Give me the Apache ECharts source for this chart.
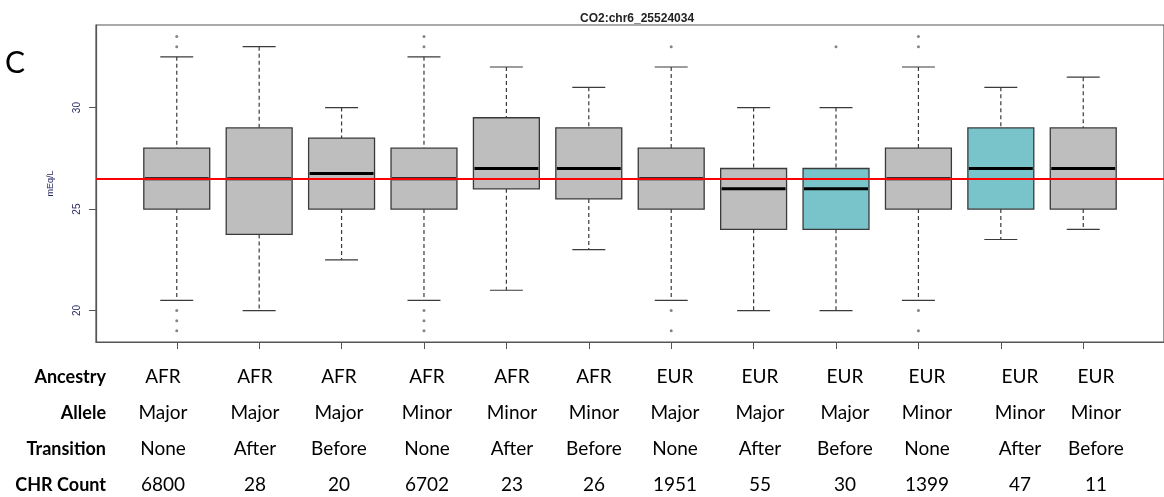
<!DOCTYPE html>
<html>
<head>
<meta charset="utf-8">
<script src="https://cdn.jsdelivr.net/npm/echarts@6/dist/echarts.min.js"></script>
<style>
  html, body { margin: 0; padding: 0; background: #fff; }
  #chart { width: 1164px; height: 497px; }
</style>
</head>
<body>
<div id="chart"></div>
<script>
// box stats, one entry per group: [low whisker, q1, median, q3, high whisker]
var lowWhisker  = [20.5, 20,    22.5,  20.5, 21,   23,   20.5, 20, 20, 20.5, 23.5, 24];
var q1          = [25,   23.75, 25,    25,   26,   25.5, 25,   24, 24, 25,   25,   25];
var median      = [26.5, 26.5,  26.75, 26.5, 27,   27,   26.5, 26, 26, 26.5, 27,   27];
var q3          = [28,   29,    28.5,  28,   29.5, 29,   28,   27, 27, 28,   29,   29];
var highWhisker = [32.5, 33,    30,    32.5, 32,   31,   32,   30, 30, 32,   31,   31.5];

// outliers: [group (1-based), value]
var outliers = [
  [1, 33.5], [1, 33], [1, 20], [1, 19.5], [1, 19],
  [4, 33.5], [4, 33], [4, 20], [4, 19.5], [4, 19],
  [7, 33], [7, 20], [7, 19],
  [9, 33],
  [10, 33.5], [10, 33], [10, 20], [10, 19]
];

var refLine = 26.5;
var yTicks = [20, 25, 30];

// table under the plot
var rowNames   = ['Ancestry', 'Allele', 'Transition', 'CHR Count'];
var ancestry   = ['AFR', 'AFR', 'AFR', 'AFR', 'AFR', 'AFR', 'EUR', 'EUR', 'EUR', 'EUR', 'EUR', 'EUR'];
var allele     = ['Major', 'Major', 'Major', 'Minor', 'Minor', 'Minor', 'Major', 'Major', 'Major', 'Minor', 'Minor', 'Minor'];
var transition = ['None', 'After', 'Before', 'None', 'After', 'Before', 'None', 'After', 'Before', 'None', 'After', 'Before'];
var chrCount   = ['6800', '28', '20', '6702', '23', '26', '1951', '55', '30', '1399', '47', '11'];

// layout / style only
var tealBoxes = [9, 11];
var colX = [163, 255, 339, 427, 512, 594, 675, 760, 845, 927, 1020, 1096];
var rowY = [377, 413, 449, 485];

var boxData = [];
for (var i = 0; i < median.length; i++) {
  boxData.push([i + 1, lowWhisker[i], q1[i], median[i], q3[i], highWhisker[i]]);
}
var positions = boxData.map(function (d) { return d[0]; });

var tableRows = [ancestry, allele, transition, chrCount];
var graphics = [{
  type: 'text', left: 5, top: 48,
  style: { text: 'C', font: '30px Lato', fill: '#000' }
}];
rowNames.forEach(function (name, r) {
  graphics.push({
    type: 'text', x: 106, y: rowY[r],
    style: { text: name, font: 'bold 18px Lato', fill: '#000', textAlign: 'right', textVerticalAlign: 'middle' }
  });
  tableRows[r].forEach(function (t, c) {
    graphics.push({
      type: 'text', x: colX[c], y: rowY[r],
      style: { text: t, font: '19px Lato', fill: '#000', textAlign: 'center', textVerticalAlign: 'middle' }
    });
  });
});

function renderBox(params, api) {
  var x = api.value(0);
  var half = api.size([0.4, 0])[0];
  var capHalf = half / 2;
  var pLow = api.coord([x, api.value(1)]);
  var pQ1 = api.coord([x, api.value(2)]);
  var pMed = api.coord([x, api.value(3)]);
  var pQ3 = api.coord([x, api.value(4)]);
  var pHigh = api.coord([x, api.value(5)]);
  var cx = pMed[0];
  var fill = tealBoxes.indexOf(x) >= 0 ? '#79c4cb' : '#bebebe';
  var edge = '#3a3a3a';
  return {
    type: 'group',
    children: [
      { type: 'line', shape: { x1: cx, y1: pHigh[1], x2: cx, y2: pQ3[1] },
        style: { stroke: edge, lineWidth: 1.2, lineDash: [4, 3] } },
      { type: 'line', shape: { x1: cx, y1: pQ1[1], x2: cx, y2: pLow[1] },
        style: { stroke: edge, lineWidth: 1.2, lineDash: [4, 3] } },
      { type: 'line', shape: { x1: cx - capHalf, y1: pHigh[1], x2: cx + capHalf, y2: pHigh[1] },
        style: { stroke: edge, lineWidth: 1.2 } },
      { type: 'line', shape: { x1: cx - capHalf, y1: pLow[1], x2: cx + capHalf, y2: pLow[1] },
        style: { stroke: edge, lineWidth: 1.2 } },
      { type: 'rect', shape: { x: cx - half, y: pQ3[1], width: half * 2, height: pQ1[1] - pQ3[1] },
        style: { fill: fill, stroke: edge, lineWidth: 1.3 } },
      { type: 'line', shape: { x1: cx - half + 1, y1: pMed[1], x2: cx + half - 1, y2: pMed[1] },
        style: { stroke: '#000', lineWidth: 3 } }
    ]
  };
}

var chart = echarts.init(document.getElementById('chart'));
chart.setOption({
  animation: false,
  backgroundColor: '#fff',
  title: {
    text: 'CO2:chr6_25524034',
    left: 575, top: 8,
    textStyle: { fontFamily: 'Liberation Sans', fontSize: 12, fontWeight: 'bold', color: '#222' }
  },
  grid: {
    left: 96, top: 25, width: 1078, bottom: 155,
    show: true, borderColor: '#555', borderWidth: 1.2, backgroundColor: 'transparent'
  },
  xAxis: {
    type: 'value', min: 0.02, max: 12.98,
    axisLine: { show: true, lineStyle: { color: '#555', width: 1.2 } },
    axisTick: { show: true, customValues: positions, length: 7, lineStyle: { color: '#555' } },
    axisLabel: { show: false },
    splitLine: { show: false }
  },
  yAxis: {
    type: 'value', min: 18.45, max: 34.07,
    name: 'mEq/L', nameLocation: 'middle', nameGap: 41, nameRotate: 90,
    nameTextStyle: { fontFamily: 'Liberation Sans', fontSize: 9, color: '#2a2a66' },
    axisLine: { show: true, lineStyle: { color: '#555', width: 1.2 } },
    axisTick: { show: true, customValues: yTicks, length: 7, lineStyle: { color: '#555' } },
    axisLabel: {
      customValues: yTicks, rotate: 90, margin: 14,
      fontFamily: 'Liberation Sans', fontSize: 10, color: '#2a2a66'
    },
    splitLine: { show: false }
  },
  graphic: graphics,
  series: [
    {
      type: 'custom',
      renderItem: renderBox,
      data: boxData,
      z: 2,
      silent: true
    },
    {
      type: 'scatter',
      data: outliers,
      symbol: 'circle',
      symbolSize: 3,
      itemStyle: { color: '#666' },
      z: 3,
      silent: true,
      markLine: {
        silent: true,
        symbol: ['none', 'none'],
        label: { show: false },
        lineStyle: { color: '#ff0000', width: 2, type: 'solid' },
        data: [{ yAxis: refLine }]
      }
    }
  ]
});
</script>
</body>
</html>
